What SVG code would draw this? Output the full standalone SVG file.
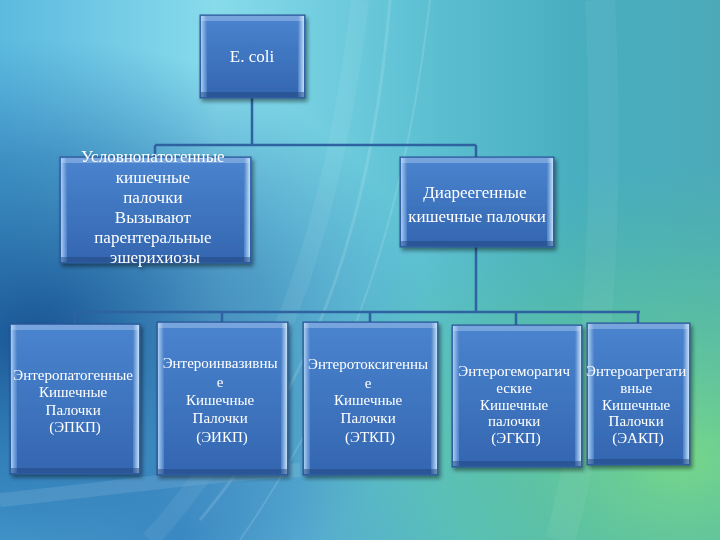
<svg xmlns="http://www.w3.org/2000/svg" width="720" height="540" viewBox="0 0 720 540">
  <defs>
    <linearGradient id="bgBase" x1="0" y1="0" x2="1" y2="0">
      <stop offset="0" stop-color="#5cbadf"/>
      <stop offset="0.3" stop-color="#88dbeb"/>
      <stop offset="0.55" stop-color="#62c4d6"/>
      <stop offset="0.8" stop-color="#48aec0"/>
      <stop offset="1" stop-color="#4caab8"/>
    </linearGradient>
    <radialGradient id="darkLeft" cx="0.05" cy="0.62" r="0.55">
      <stop offset="0" stop-color="#164f90" stop-opacity="0.95"/>
      <stop offset="0.6" stop-color="#1f66a8" stop-opacity="0.5"/>
      <stop offset="1" stop-color="#2a7ab8" stop-opacity="0"/>
    </radialGradient>
    <radialGradient id="greenRight" cx="0.95" cy="0.85" r="0.55">
      <stop offset="0" stop-color="#78d888" stop-opacity="0.95"/>
      <stop offset="0.6" stop-color="#5cc49a" stop-opacity="0.5"/>
      <stop offset="1" stop-color="#50b8a8" stop-opacity="0"/>
    </radialGradient>
    <radialGradient id="blueBottom" cx="0.25" cy="1.0" r="0.4">
      <stop offset="0" stop-color="#2f7cbc" stop-opacity="0.8"/>
      <stop offset="1" stop-color="#2f7cbc" stop-opacity="0"/>
    </radialGradient>
    <linearGradient id="boxFill" x1="0" y1="0" x2="0" y2="1">
      <stop offset="0" stop-color="#4a84cf"/>
      <stop offset="1" stop-color="#3466b0"/>
    </linearGradient>
    <linearGradient id="edgeL" x1="0" y1="0" x2="1" y2="0">
      <stop offset="0" stop-color="#a9cdf3"/>
      <stop offset="1" stop-color="#4a80c8"/>
    </linearGradient>
    <linearGradient id="edgeR" x1="0" y1="0" x2="1" y2="0">
      <stop offset="0" stop-color="#4a80c8"/>
      <stop offset="1" stop-color="#c4e0fa"/>
    </linearGradient>
    <filter id="shadow" x="-10%" y="-10%" width="130%" height="130%">
      <feGaussianBlur in="SourceAlpha" stdDeviation="2"/>
      <feOffset dx="2" dy="3" result="b"/>
      <feComponentTransfer><feFuncA type="linear" slope="0.45"/></feComponentTransfer>
      <feMerge><feMergeNode/><feMergeNode in="SourceGraphic"/></feMerge>
    </filter>
  </defs>
  <style>
    .box { fill: url(#boxFill); stroke: #2a5290; stroke-width: 1; }
    .el { fill: url(#edgeL); }
    .er { fill: url(#edgeR); }
    .tb { fill: #cfe3f8; fill-opacity: 0.35; }
    .bb { fill: #22467e; fill-opacity: 0.5; }
    .t { font-family: "Liberation Serif", "Times New Roman", serif; fill: #ffffff; text-anchor: middle; }
    .conn { fill: none; stroke: #2f62a0; stroke-width: 2.5; }
    .streak { fill: none; stroke: #ffffff; }
  </style>

  <!-- background -->
  <rect width="720" height="540" fill="url(#bgBase)"/>
  <rect width="720" height="540" fill="url(#darkLeft)"/>
  <rect width="720" height="540" fill="url(#blueBottom)"/>
  <rect width="720" height="540" fill="url(#greenRight)"/>
  <g opacity="0.25">
    <path class="streak" stroke-width="18" stroke-opacity="0.25" d="M150,540 C260,420 330,260 360,0"/>
    <path class="streak" stroke-width="3" stroke-opacity="0.5" d="M200,520 C300,400 370,250 390,0"/>
    <path class="streak" stroke-width="2" stroke-opacity="0.5" d="M240,540 C330,410 400,260 430,0"/>
    <path class="streak" stroke-width="30" stroke-opacity="0.2" d="M560,540 C600,400 610,200 600,0"/>
    <path class="streak" stroke-width="14" stroke-opacity="0.4" d="M0,500 C100,490 200,475 300,470"/>
  </g>

  <!-- connectors -->
  <g id="connectors">
    <path class="conn" d="M252,98 V145 M155,145 H476 M155,145 V157 M476,145 V157"/>
    <path class="conn" d="M476,247 V312 M75,312 H640 M75,312 V324 M222,312 V322 M370,312 V322 M516,312 V325 M638,312 V323"/>
  </g>

  <!-- E. coli -->
  <g id="n-ecoli" filter="url(#shadow)">
    <rect class="box" x="200" y="15" width="105" height="83"/>
    <rect class="el" x="201" y="16" width="6" height="81"/>
    <rect class="er" x="298" y="16" width="6" height="81"/>
    <rect class="tb" x="201" y="16" width="103" height="5"/>
    <rect class="bb" x="201" y="92" width="103" height="5"/>
    <text class="t" x="252" y="62" font-size="17">E. coli</text>
  </g>

  <!-- Условнопатогенные -->
  <g id="n-uslovno" filter="url(#shadow)">
    <rect class="box" x="60" y="157" width="191" height="106"/>
    <rect class="el" x="61" y="158" width="6" height="104"/>
    <rect class="er" x="244" y="158" width="6" height="104"/>
    <rect class="tb" x="61" y="158" width="189" height="5"/>
    <rect class="bb" x="61" y="257" width="189" height="5"/>
    <text class="t" font-size="17">
      <tspan x="155" y="162">Условнопатогенные</tspan>
      <tspan x="155" y="183">кишечные</tspan>
      <tspan x="155" y="203">палочки</tspan>
      <tspan x="155" y="223">Вызывают</tspan>
      <tspan x="155" y="243">парентеральные</tspan>
      <tspan x="155" y="263">эшерихиозы</tspan>
    </text>
  </g>

  <!-- Диареегенные -->
  <g id="n-diareegen" filter="url(#shadow)">
    <rect class="box" x="400" y="157" width="154" height="90"/>
    <rect class="el" x="401" y="158" width="6" height="88"/>
    <rect class="er" x="547" y="158" width="6" height="88"/>
    <rect class="tb" x="401" y="158" width="152" height="5"/>
    <rect class="bb" x="401" y="241" width="152" height="5"/>
    <text class="t" font-size="17">
      <tspan x="477" y="198">Диареегенные</tspan>
      <tspan x="477" y="222">кишечные палочки</tspan>
    </text>
  </g>

  <!-- ЭПКП -->
  <g id="n-epkp" filter="url(#shadow)">
    <rect class="box" x="10" y="324" width="130" height="150"/>
    <rect class="el" x="11" y="325" width="6" height="148"/>
    <rect class="er" x="133" y="325" width="6" height="148"/>
    <rect class="tb" x="11" y="325" width="128" height="5"/>
    <rect class="bb" x="11" y="468" width="128" height="5"/>
    <text class="t" font-size="15">
      <tspan x="75" y="380">Энтеропатогенные</tspan>
      <tspan x="75" y="397">Кишечные</tspan>
      <tspan x="75" y="415">Палочки</tspan>
      <tspan x="75" y="432">(ЭПКП)</tspan>
    </text>
  </g>

  <!-- ЭИКП -->
  <g id="n-eikp" filter="url(#shadow)">
    <rect class="box" x="157" y="322" width="131" height="153"/>
    <rect class="el" x="158" y="323" width="6" height="151"/>
    <rect class="er" x="281" y="323" width="6" height="151"/>
    <rect class="tb" x="158" y="323" width="129" height="5"/>
    <rect class="bb" x="158" y="469" width="129" height="5"/>
    <text class="t" font-size="15">
      <tspan x="222" y="368">Энтероинвазивны</tspan>
      <tspan x="222" y="387">е</tspan>
      <tspan x="222" y="405">Кишечные</tspan>
      <tspan x="222" y="423">Палочки</tspan>
      <tspan x="222" y="442">(ЭИКП)</tspan>
    </text>
  </g>

  <!-- ЭТКП -->
  <g id="n-etkp" filter="url(#shadow)">
    <rect class="box" x="303" y="322" width="135" height="153"/>
    <rect class="el" x="304" y="323" width="6" height="151"/>
    <rect class="er" x="431" y="323" width="6" height="151"/>
    <rect class="tb" x="304" y="323" width="133" height="5"/>
    <rect class="bb" x="304" y="469" width="133" height="5"/>
    <text class="t" font-size="15">
      <tspan x="370" y="369">Энтеротоксигенны</tspan>
      <tspan x="370" y="388">е</tspan>
      <tspan x="370" y="405">Кишечные</tspan>
      <tspan x="370" y="423">Палочки</tspan>
      <tspan x="370" y="442">(ЭТКП)</tspan>
    </text>
  </g>

  <!-- ЭГКП -->
  <g id="n-egkp" filter="url(#shadow)">
    <rect class="box" x="452" y="325" width="130" height="142"/>
    <rect class="el" x="453" y="326" width="6" height="140"/>
    <rect class="er" x="575" y="326" width="6" height="140"/>
    <rect class="tb" x="453" y="326" width="128" height="5"/>
    <rect class="bb" x="453" y="461" width="128" height="5"/>
    <text class="t" font-size="15">
      <tspan x="516" y="376">Энтерогеморагич</tspan>
      <tspan x="516" y="393">еские</tspan>
      <tspan x="516" y="410">Кишечные</tspan>
      <tspan x="516" y="426">палочки</tspan>
      <tspan x="516" y="443">(ЭГКП)</tspan>
    </text>
  </g>

  <!-- ЭАКП -->
  <g id="n-eakp" filter="url(#shadow)">
    <rect class="box" x="587" y="323" width="103" height="142"/>
    <rect class="el" x="588" y="324" width="6" height="140"/>
    <rect class="er" x="683" y="324" width="6" height="140"/>
    <rect class="tb" x="588" y="324" width="101" height="5"/>
    <rect class="bb" x="588" y="459" width="101" height="5"/>
    <text class="t" font-size="15">
      <tspan x="638" y="376">Энтероагрегати</tspan>
      <tspan x="638" y="393">вные</tspan>
      <tspan x="638" y="410">Кишечные</tspan>
      <tspan x="638" y="426">Палочки</tspan>
      <tspan x="638" y="443">(ЭАКП)</tspan>
    </text>
  </g>
</svg>
